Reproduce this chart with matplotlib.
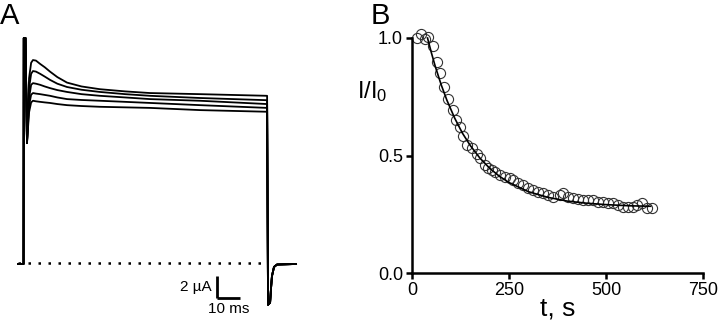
import matplotlib
matplotlib.use("Agg")
import matplotlib.pyplot as plt

plt.rcParams['font.family'] = ['Liberation Sans', 'DejaVu Sans']
plt.rcParams['mathtext.fontset'] = 'custom'
plt.rcParams['mathtext.rm'] = 'Liberation Sans'
plt.rcParams['mathtext.it'] = 'Liberation Sans'
plt.rcParams['mathtext.default'] = 'regular'

# ---- panel A: current traces (ms, uA) ----
onset_t = [-2.6, -0.2, -0.1, 0.65, 1.3]
onset_i = [-0.09, -0.09, 20.45, 20.45, 10.9]

trace_t = [2.2, 3.1, 3.9, 5.2, 7.0, 9.0, 11.3, 14.5, 18.7, 25, 33, 44, 54.8, 76.5, 105.7]
trace1 = [16.8, 18.2, 18.45, 18.4, 18.1, 17.8, 17.4, 16.9, 16.4, 16.05, 15.8, 15.6, 15.45, 15.35, 15.2]
trace2 = [15.9, 17.2, 17.45, 17.4, 17.2, 16.95, 16.65, 16.3, 16.0, 15.75, 15.55, 15.35, 15.2, 15.0, 14.8]
trace3 = [15.0, 16.2, 16.35, 16.3, 16.2, 16.05, 15.9, 15.72, 15.55, 15.35, 15.2, 15.05, 14.9, 14.75, 14.45]
trace4 = [14.3, 15.3, 15.45, 15.4, 15.35, 15.28, 15.2, 15.05, 14.9, 14.82, 14.75, 14.65, 14.55, 14.35, 14.1]
trace5 = [13.7, 14.6, 14.75, 14.7, 14.65, 14.6, 14.55, 14.45, 14.35, 14.27, 14.2, 14.15, 14.1, 13.9, 13.75]

tail_t = [106.1, 107.0, 107.4, 107.8, 108.7, 110.0, 118.3]
tail_i = [-3.8, -3.6, -2.3, -1.2, -0.36, -0.14, -0.09]

baseline_t = [-2.6, 105.0]

# ---- panel B: I/I0 vs time (s) ----
t_s = [12, 23, 34, 42, 53, 64, 72, 83, 94, 105, 113, 124, 132, 143, 154, 167,
       175, 188, 197, 205, 214, 227, 240, 253, 261, 274, 287, 300, 313, 325,
       338, 351, 364, 381, 390, 403, 416, 429, 441, 454, 467, 480, 493, 506,
       519, 532, 545, 557, 570, 579, 592, 605, 618]
ratio = [0.999, 1.015, 0.994, 1.003, 0.967, 0.90, 0.85, 0.79, 0.74, 0.694,
         0.651, 0.62, 0.585, 0.543, 0.53, 0.505, 0.488, 0.46, 0.445, 0.44,
         0.431, 0.417, 0.41, 0.403, 0.396, 0.382, 0.374, 0.36, 0.353, 0.346,
         0.339, 0.332, 0.325, 0.332, 0.339, 0.325, 0.318, 0.314, 0.311, 0.311,
         0.311, 0.303, 0.303, 0.297, 0.297, 0.289, 0.282, 0.282, 0.279, 0.289,
         0.297, 0.275, 0.275]

fit_t = [40, 50, 60, 75, 90, 110, 130, 150, 175, 200, 225, 250, 300, 350,
         400, 450, 500, 560, 615]
fit_v = [1.0, 0.937, 0.879, 0.802, 0.735, 0.659, 0.595, 0.543, 0.489, 0.446,
         0.412, 0.385, 0.346, 0.322, 0.306, 0.297, 0.291, 0.286, 0.284]

fig = plt.figure(figsize=(7.2, 3.28), dpi=100)

# panel A
axA = fig.add_axes([0, 0, 0.5, 1])
axA.set_xlim(-24 / 2.3, 336 / 2.3)
axA.set_ylim(-65 / 11.0, 263 / 11.0)
axA.axis('off')

for tr in [trace1, trace2, trace3, trace4, trace5]:
    axA.plot(onset_t + trace_t + tail_t, onset_i + tr + tail_i,
             color='black', lw=1.3, solid_joinstyle='round')

axA.plot(baseline_t, [0, 0], color='black', lw=1.8, linestyle=(0, (1, 3)))

# scale bar: 10 ms, 2 uA
bar_t0 = 83.9
bar_i0 = -3.18
axA.plot([bar_t0, bar_t0 + 10], [bar_i0, bar_i0], color='black', lw=2,
         solid_capstyle='butt')
axA.plot([bar_t0, bar_t0], [bar_i0, bar_i0 + 2], color='black', lw=2,
         solid_capstyle='butt')
axA.text(bar_t0 - 2.5, bar_i0 + 1.0, '2 \u00b5A', ha='right', va='center',
         fontsize=11)
axA.text(bar_t0 + 5, bar_i0 - 0.4, '10 ms', ha='center', va='top',
         fontsize=11)

fig.text(0.0, 0.995, 'A', fontsize=21, ha='left', va='top')
fig.text(0.515, 0.995, 'B', fontsize=21, ha='left', va='top')

# panel B
axB = fig.add_axes([412 / 720, 1 - 273 / 328, 291 / 720, 235 / 328])
axB.plot(fit_t, fit_v, color='black', lw=1.2, zorder=3, clip_on=False)
axB.plot(t_s, ratio, linestyle='none', marker='o', markersize=7.3,
         markerfacecolor='none', markeredgecolor='#333333',
         markeredgewidth=0.8, clip_on=False, zorder=2)
axB.set_xlim(0, 750)
axB.set_ylim(0, 1.0)
axB.set_xticks([0, 250, 500, 750])
axB.set_yticks([0.0, 0.5, 1.0])
axB.set_yticklabels(['0.0', '0.5', '1.0'])
axB.spines['top'].set_visible(False)
axB.spines['right'].set_visible(False)
for s in ['left', 'bottom']:
    axB.spines[s].set_linewidth(1.8)
axB.tick_params(width=1.8, length=4.5, labelsize=13, pad=2)
axB.set_xlabel('t, s', fontsize=19, labelpad=-2)
fig.text(357 / 720, 1 - 92 / 328, 'I/I$_0$', fontsize=17, ha='left',
         va='center')

fig.savefig('out.png', dpi=100)
